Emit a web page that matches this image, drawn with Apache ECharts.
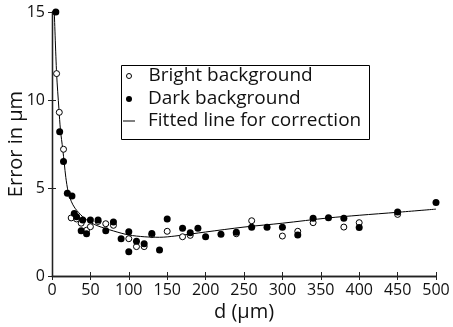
<!DOCTYPE html>
<html><head><meta charset="utf-8">
<script src="https://cdn.jsdelivr.net/npm/echarts@6/dist/echarts.min.js"></script>
<style>html,body{margin:0;padding:0;background:#fff}#c{width:453px;height:327px}</style>
</head><body><div id="c"></div>
<script>
// d (µm), error (µm)
const brightD = [6, 9.5, 15, 25, 32, 38, 45, 50, 60, 70, 80, 100, 110, 120, 130, 150, 170, 180, 240, 260, 300, 320, 340, 380, 400, 450];
const brightV = [11.5, 9.3, 7.2, 3.3, 3.24, 3.0, 2.6, 2.8, 3.1, 2.97, 2.88, 2.12, 1.67, 1.67, 2.35, 2.54, 2.23, 2.31, 2.4, 3.14, 2.27, 2.54, 3.03, 2.78, 3.03, 3.5];
const darkD = [5, 10, 15, 20, 26, 29, 32, 40, 38, 45, 50, 60, 70, 80, 90, 100, 100, 110, 120, 130, 140, 150, 170, 180, 190, 200, 220, 240, 260, 280, 300, 320, 340, 360, 380, 400, 450, 500];
const darkV = [15.0, 8.2, 6.5, 4.7, 4.55, 3.55, 3.37, 3.18, 2.57, 2.4, 3.18, 3.18, 2.57, 3.07, 2.12, 2.52, 1.38, 1.97, 1.83, 2.42, 1.48, 3.24, 2.71, 2.46, 2.71, 2.23, 2.37, 2.48, 2.77, 2.77, 2.77, 2.33, 3.28, 3.31, 3.28, 2.75, 3.64, 4.17];
const fitD = [3, 6, 9, 11, 14, 16, 18, 21, 25, 30, 40, 50, 60, 80, 100, 120, 140, 160, 200, 250, 300, 360, 400, 450, 500];
const fitV = [15, 11.5, 9.5, 8.3, 7.2, 6.4, 5.6, 4.8, 4.25, 3.85, 3.37, 3.05, 2.84, 2.56, 2.33, 2.23, 2.2, 2.27, 2.5, 2.78, 3.0, 3.3, 3.45, 3.62, 3.8];
const xTicks = [0, 50, 100, 150, 200, 250, 300, 350, 400, 450, 500];
const yTicks = [0, 5, 10, 15];
const names = ['Bright background', 'Dark background', 'Fitted line for correction'];

const zip = (a, b) => a.map((v, i) => [v, b[i]]);
const FONT = 'Open Sans';
const chart = echarts.init(document.getElementById('c'), null, {renderer: 'canvas'});
const axLine = {show: true, lineStyle: {color: '#222', width: 1.3}};
const tick = {show: true, inside: true, length: 4, lineStyle: {color: '#222', width: 1}};
const lbl = {color: '#111', fontFamily: FONT, fontSize: 16};
const legText = (p) => ({color: '#111', fontFamily: FONT, fontSize: 19, lineHeight: 20, padding: [0, 0, 0, p]});
chart.setOption({
  animation: false,
  grid: {left: 52, right: 17, top: 12, bottom: 51, outerBoundsMode: 'none', containLabel: false},
  xAxis: [
    {type: 'value', min: xTicks[0], max: xTicks[xTicks.length - 1], interval: 50, position: 'bottom',
     axisLine: axLine, axisTick: tick, splitLine: {show: false},
     axisLabel: Object.assign({margin: 6}, lbl),
     name: 'd (μm)', nameLocation: 'middle', nameGap: 26, nameMoveOverlap: false,
     nameTextStyle: {color: '#111', fontFamily: FONT, fontSize: 20}},
    {type: 'value', min: 0, max: 500, interval: 50, position: 'top',
     axisLine: axLine, axisTick: tick, splitLine: {show: false}, axisLabel: {show: false}}
  ],
  yAxis: [
    {type: 'value', min: yTicks[0], max: yTicks[yTicks.length - 1], interval: 5, position: 'left',
     axisLine: axLine, axisTick: tick, splitLine: {show: false},
     axisLabel: Object.assign({margin: 7}, lbl),
     name: 'Error in μm', nameLocation: 'middle', nameGap: 26, nameMoveOverlap: false,
     nameTextStyle: {color: '#111', fontFamily: FONT, fontSize: 20}},
    {type: 'value', min: 0, max: 15, interval: 5, position: 'right',
     axisLine: axLine, axisTick: tick, splitLine: {show: false}, axisLabel: {show: false}}
  ],
  legend: [
    {data: [names[0]], left: 126, top: 66, padding: 0, icon: 'circle', itemWidth: 5, itemHeight: 5,
     itemStyle: {color: '#fff', borderColor: '#000', borderWidth: 1},
     textStyle: legText(12), selectedMode: false},
    {data: [names[1]], left: 126, top: 89, padding: 0, icon: 'circle', itemWidth: 6, itemHeight: 6,
     itemStyle: {color: '#000'},
     textStyle: legText(11), selectedMode: false},
    {data: [names[2]], left: 123, top: 111, padding: 0, icon: 'rect', itemWidth: 12, itemHeight: 1,
     itemStyle: {color: '#000'},
     textStyle: legText(8), selectedMode: false}
  ],
  graphic: [{type: 'rect', left: 119, top: 63, shape: {width: 248, height: 74},
    style: {fill: 'none', stroke: '#000', lineWidth: 1}, z: 1}],
  series: [
    {name: names[2], type: 'line', data: zip(fitD, fitV), smooth: 0.3, showSymbol: false,
     lineStyle: {color: '#000', width: 1}, itemStyle: {color: '#000'}, z: 2},
    {name: names[0], type: 'scatter', data: zip(brightD, brightV), symbol: 'circle', symbolSize: 6,
     itemStyle: {color: '#fff', borderColor: '#000', borderWidth: 1, opacity: 1}, z: 3},
    {name: names[1], type: 'scatter', data: zip(darkD, darkV), symbol: 'circle', symbolSize: 7,
     itemStyle: {color: '#000', opacity: 1}, z: 4}
  ]
});
</script></body></html>
